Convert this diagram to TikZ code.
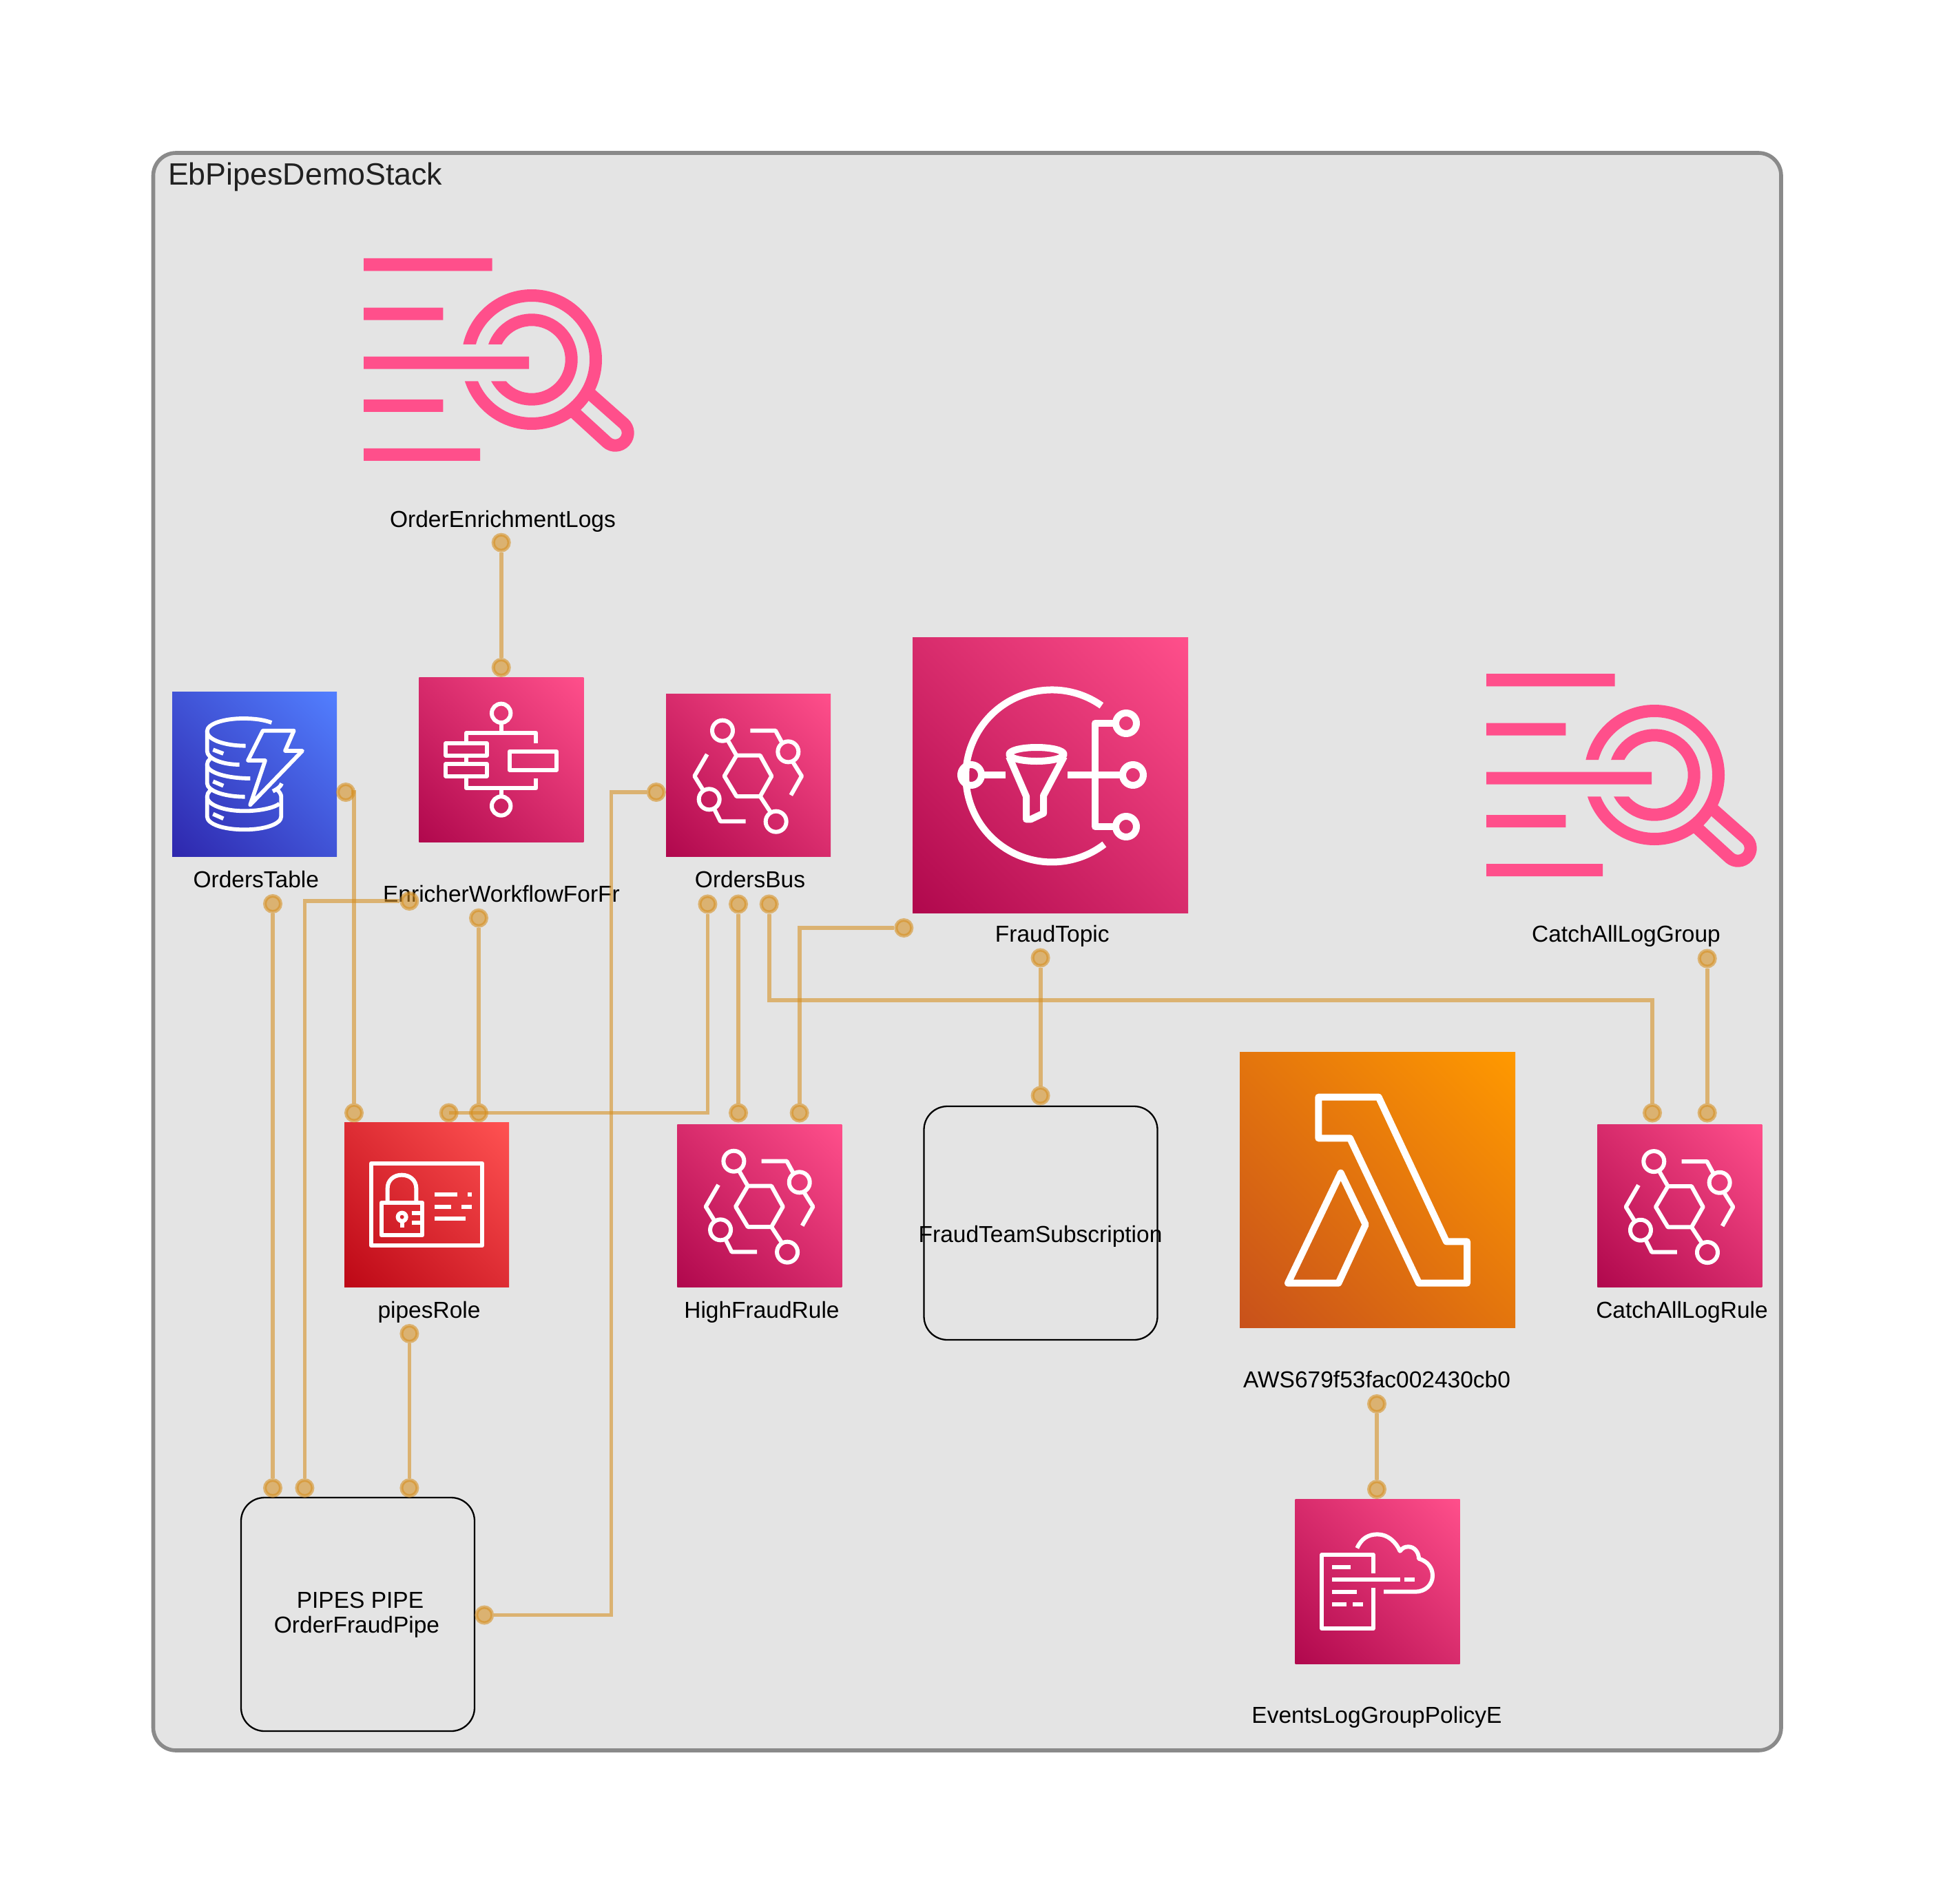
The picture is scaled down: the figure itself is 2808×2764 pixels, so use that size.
\documentclass[tikz,border=0pt]{standalone}
\usepackage{fontspec}
\setmainfont{Liberation Sans}
\definecolor{pinkA}{HTML}{B0084D}\definecolor{pinkB}{HTML}{FF4F8B}
\definecolor{blueA}{HTML}{2E27AD}\definecolor{blueB}{HTML}{527FFF}
\definecolor{redA}{HTML}{BD0816}\definecolor{redB}{HTML}{FF5252}
\definecolor{orgA}{HTML}{C8511B}\definecolor{orgB}{HTML}{FF9900}
\definecolor{connC}{HTML}{D68F1F}
\definecolor{clusterFill}{HTML}{E4E4E4}
\definecolor{clusterLine}{HTML}{8A8A8A}
\pgfdeclareverticalshading{pinkg}{100bp}{color(0bp)=(pinkA); color(14.6bp)=(pinkA); color(85.4bp)=(pinkB); color(100bp)=(pinkB)}
\pgfdeclareverticalshading{blueg}{100bp}{color(0bp)=(blueA); color(14.6bp)=(blueA); color(85.4bp)=(blueB); color(100bp)=(blueB)}
\pgfdeclareverticalshading{redg}{100bp}{color(0bp)=(redA); color(14.6bp)=(redA); color(85.4bp)=(redB); color(100bp)=(redB)}
\pgfdeclareverticalshading{orgg}{100bp}{color(0bp)=(orgA); color(14.6bp)=(orgA); color(85.4bp)=(orgB); color(100bp)=(orgB)}
\tikzset{
  iconbox/.style n args={3}{rectangle,anchor=north west,inner sep=0pt,outer sep=0pt,
    minimum width=#1,minimum height=#2,shade,shading=#3,shading angle=-45},
  glyphline/.style={draw=white,line width=#1,line join=round,fill=none},
  lbl/.style={anchor=base,inner sep=0pt,outer sep=0pt,text=black,font=\fontsize{33.5pt}{40pt}\selectfont},
  titlelbl/.style={anchor=base west,inner sep=0pt,outer sep=0pt,text=black!87,font=\fontsize{44.8pt}{50pt}\selectfont},
  cluster/.style={draw=clusterLine,fill=clusterFill,line width=5.6pt,rounded corners=33pt},
  whitebox/.style={rectangle,draw=black,line width=2.3pt,rounded corners=34pt,fill=none,anchor=north west,inner sep=0pt,outer sep=0pt,minimum width=339pt,minimum height=339pt},
  dotmark/.style={circle,inner sep=0pt,outer sep=2.5pt,minimum size=23pt,fill=connC,fill opacity=.58,
    postaction={draw=connC,draw opacity=.58,line width=5pt}},
  conn/.style={draw=connC,draw opacity=.58,line width=5.8pt},
  logpink/.style={fill=pinkB,draw=none},
}
\newcommand{\busglyph}{%
  \draw[glyphline=6pt] (237,182) circle[radius=15pt] (523,274) circle[radius=15pt]
    (179,481) circle[radius=15pt] (470,578) circle[radius=15pt];
  \draw[glyphline=6pt] (298,290)--(401,290)--(451,380)--(401,468)--(298,468)--(245,380)--cycle;
  \draw[glyphline=6pt] (260,224)--(298,290) (401,468)--(447,538);
  \draw[glyphline=6pt] (358,182)--(468,182)--(495,232) (543,318)--(582,380)--(535,463);
  \draw[glyphline=6pt] (170,285)--(115,380)--(152,440) (203,527)--(228,577)--(338,577);
}
\newcommand{\logglyph}{%
  \fill[logpink] (144,165) rectangle (704,220) (144,380) rectangle (490,434)
    (144,593) rectangle (864,647) (144,780) rectangle (490,834) (144,993) rectangle (651,1047);
  \begin{scope}
    \clip (400,200)--(1400,200)--(1400,1100)--(400,1100)--(400,700)--(900,700)--(900,540)--(400,540)--cycle;
    \draw[draw=pinkB,line width=18pt] (876,606) circle[radius=93pt];
    \draw[draw=pinkB,line width=18pt] (876,606) circle[radius=57.7pt];
  \end{scope}
  \draw[draw=pinkB,line width=18pt] (1125,750)--(1276.5,884) arc[start angle=48.4,end angle=-131.6,radius=18.33pt]--(1060,835);
}
\begin{document}
\begin{tikzpicture}[x=1pt,y=-1pt]
\useasboundingbox (0,0) rectangle (2808,2764);
\fill[white] (0,0) rectangle (2808,2764);
\draw[cluster] (222.5,222) rectangle (2586,2541);
\node[titlelbl] (stackLabel) at (244,269) {EbPipesDemoStack};

% ---- icons
\node[iconbox={239pt}{239pt}{blueg}] (ordersTable) at (250,1004) {};
\begin{scope}[shift={(240,1000)},x=.33333pt,y=-.33333pt]
  \draw[glyphline=5.8pt,line cap=butt]
    (463,147) .. controls (430,135) and (390,129) .. (340,129) .. controls (255,129) and (182,152) .. (182,185) .. controls (182,222) and (260,248) .. (350,248);
  \draw[glyphline=5.8pt] (182,185)--(182,270) .. controls (182,305) and (250,330) .. (323,330);
  \draw[glyphline=5.8pt] (195,305) .. controls (187,312) and (182,320) .. (182,330) .. controls (182,365) and (270,390) .. (370,390);
  \draw[glyphline=5.8pt] (182,330)--(182,410) .. controls (182,445) and (260,470) .. (347,470);
  \draw[glyphline=5.8pt] (195,443) .. controls (187,450) and (182,460) .. (182,470) .. controls (182,505) and (255,532) .. (345,532) .. controls (420,532) and (480,515) .. (497,500);
  \draw[glyphline=5.8pt] (182,470)--(182,555) .. controls (182,590) and (255,613) .. (345,613) .. controls (430,613) and (505,590) .. (505,555)--(505,470) .. controls (505,460) and (497,448) .. (488,440);
  \draw[glyphline=5.8pt] (507,412) .. controls (503,425) and (490,435) .. (468,446);
  \draw[glyphline=5.8pt] (208,265)--(253,282) (208,403)--(253,422) (208,545)--(253,565);
  \draw[glyphline=5.8pt] (425,182)--(560,182)--(522,270)--(597,270)--(370,505)--(435,312)--(360,312)--cycle;
\end{scope}

\node[iconbox={239pt}{239pt}{pinkg}] (enricher) at (608.3,983.3) {};
\begin{scope}[shift={(600,980)},x=.33333pt,y=-.33333pt]
  \draw[glyphline=6pt] (383,166) circle[radius=13.7pt] (383,570) circle[radius=13.7pt];
  \draw[glyphline=6pt] (383,215)--(383,252) (383,493)--(383,525);
  \draw[glyphline=6pt] (231,290)--(231,252)--(535,252)--(535,297);
  \draw[glyphline=6pt] (231,449)--(231,493)--(535,493)--(535,449);
  \draw[glyphline=6pt] (142,297) rectangle (320,350) (142,387) rectangle (320,440);
  \draw[glyphline=6pt] (231,350)--(231,387);
  \draw[glyphline=6pt] (419,333) rectangle (625,413);
\end{scope}

\node[iconbox={239pt}{236pt}{pinkg}] (ordersBus) at (967,1007) {};
\begin{scope}[shift={(970,1000)},x=.33333pt,y=-.33333pt]\busglyph\end{scope}

\node[iconbox={400pt}{400pt}{pinkg}] (fraudTopic) at (1325,925) {};
\begin{scope}[shift={(1300,900)},x=.33333pt,y=-.33333pt]
  \draw[glyphline=10pt] (898,373) arc[start angle=54.8,end angle=307.5,radius=125pt];
  \draw[glyphline=10pt] (330,675) circle[radius=15pt] (1005,450) circle[radius=15pt]
     (1035,675) circle[radius=15pt] (1005,900) circle[radius=15pt];
  \draw[glyphline=10pt] (388,675)--(480,675) (750,675)--(978,675);
  \draw[glyphline=10pt] (948,450)--(870,450)--(870,900)--(948,900);
  \draw[glyphline=10pt] (615,585) ellipse[x radius=39.7pt,y radius=10pt];
  \draw[glyphline=10pt] (495,595)--(570,768)--(570,868)--(590,868)--(645,842)--(645,765)--(735,595);
\end{scope}

\node[iconbox={239pt}{239pt}{redg}] (pipesRole) at (500,1629) {};
\begin{scope}[shift={(480,1600)},x=.33333pt,y=-.33333pt]
  \draw[glyphline=6pt] (176,266) rectangle (660,625);
  \draw[glyphline=6pt] (248,430)--(248,375) .. controls (248,340) and (275,317) .. (310,317) .. controls (345,317) and (373,340) .. (373,375)--(373,430);
  \draw[glyphline=6pt] (221,437) rectangle (400,580);
  \draw[glyphline=6pt] (311,500) circle[radius=6pt];
  \draw[glyphline=6pt] (311,520)--(311,545);
  \draw[glyphline=6pt] (355,482)--(400,482) (355,526)--(400,526);
  \draw[glyphline=6pt] (454,401)--(553,401) (597,401)--(615,401) (454,455)--(526,455) (570,455)--(615,455) (454,508)--(588,508);
\end{scope}

\node[iconbox={239pt}{236pt}{pinkg}] (highFraudRule) at (983.4,1632) {};
\begin{scope}[shift={(986.4,1625)},x=.33333pt,y=-.33333pt]\busglyph\end{scope}

\node[iconbox={239pt}{236pt}{pinkg}] (catchAllRule) at (2319.3,1632.4) {};
\begin{scope}[shift={(2322.3,1625.4)},x=.33333pt,y=-.33333pt]\busglyph\end{scope}

\node[iconbox={400pt}{400pt}{orgg}] (lambdaFn) at (1800,1527.7) {};
\begin{scope}[shift={(1800,1520)},x=.33333pt,y=-.33333pt]
  \draw[glyphline=10pt] (343,218)--(605,218)--(900,847)--(990,847)--(990,1028)--(780,1028)--(480,397)--(343,397)--cycle;
  \draw[glyphline=10pt] (210,1028)--(440,548)--(548,773)--(430,1028)--cycle;
\end{scope}

\node[iconbox={239pt}{239pt}{pinkg}] (policyE) at (1880.7,2176.3) {};
\begin{scope}[shift={(1880,2170)},x=.33333pt,y=-.33333pt]
  \draw[glyphline=6pt] (341,341)--(341,260)--(118,260)--(118,583)--(341,583)--(341,404);
  \draw[glyphline=6pt] (163,314)--(243,314) (163,368)--(458,368) (477,368)--(521,368) (163,422)--(270,422) (163,476)--(225,476) (252,476)--(297,476);
  \draw[glyphline=6pt] (271,232) .. controls (290,190) and (320,172) .. (360,172) .. controls (405,172) and (440,205) .. (458,245) .. controls (470,230) and (480,226) .. (495,226) .. controls (520,226) and (540,250) .. (540,278) .. controls (575,288) and (600,315) .. (600,352) .. controls (600,390) and (570,422) .. (525,422)--(387,422);
\end{scope}

\begin{scope}[shift={(480,320)},x=.33333pt,y=-.33333pt]\logglyph\end{scope}
\begin{scope}[shift={(2110,923)},x=.33333pt,y=-.33333pt]\logglyph\end{scope}

\node[whitebox] (pipeBox) at (350,2174) {};
\node[whitebox] (subBox) at (1341.5,1606) {};

% ---- labels
\node[lbl] (l1) at (730,765) {OrderEnrichmentLogs};
\node[lbl] (l2) at (371.8,1288) {OrdersTable};
\node[lbl] (l3) at (728,1309) {EnricherWorkflowForFr};
\node[lbl] (l4) at (1089,1288) {OrdersBus};
\node[lbl] (l5) at (1527.8,1367.5) {FraudTopic};
\node[lbl] (l6) at (2361,1367.5) {CatchAllLogGroup};
\node[lbl] (l7) at (623,1913) {pipesRole};
\node[lbl] (l8) at (1106,1913) {HighFraudRule};
\node[lbl] (l9) at (2442,1913) {CatchAllLogRule};
\node[lbl] (l10) at (1510.5,1803) {FraudTeamSubscription};
\node[lbl] (l11) at (1999,2014) {AWS679f53fac002430cb0};
\node[lbl] (l12) at (1999,2501) {EventsLogGroupPolicyE};
\node[lbl] (l13) at (523,2334) {PIPES PIPE};
\node[lbl] (l14) at (518,2370) {OrderFraudPipe};

% ---- dots
\node[dotmark] (logB) at (727.7,787.7) {};
\node[dotmark] (enrT) at (727.7,969) {};
\node[dotmark] (tabR) at (502,1150) {};
\node[dotmark] (busL) at (952.8,1150) {};
\node[dotmark] (tabB) at (396,1312) {};
\node[dotmark] (enrL) at (594.4,1308) {};
\node[dotmark] (enrB) at (695,1332.7) {};
\node[dotmark] (busA) at (1027.4,1312.5) {};
\node[dotmark] (busB) at (1072,1312.5) {};
\node[dotmark] (busC) at (1116.7,1312.5) {};
\node[dotmark] (roleA) at (514,1615.5) {};
\node[dotmark] (roleB) at (651.7,1615.5) {};
\node[dotmark] (roleC) at (695,1615.5) {};
\node[dotmark] (hfA) at (1072,1615.5) {};
\node[dotmark] (hfB) at (1160.7,1615.5) {};
\node[dotmark] (fraudL) at (1312.3,1347) {};
\node[dotmark] (fraudB) at (1510.6,1390.5) {};
\node[dotmark] (subT) at (1510.6,1590.5) {};
\node[dotmark] (clgB) at (2478.7,1391.5) {};
\node[dotmark] (carA) at (2399,1615.5) {};
\node[dotmark] (carB) at (2478.7,1615.5) {};
\node[dotmark] (roleBot) at (594.4,1936) {};
\node[dotmark] (pipeA) at (396,2160) {};
\node[dotmark] (pipeB) at (442.4,2160) {};
\node[dotmark] (pipeC) at (594.4,2160) {};
\node[dotmark] (pipeR) at (703.2,2344.5) {};
\node[dotmark] (awsB) at (1999,2038) {};
\node[dotmark] (polT) at (1999,2162) {};
\coordinate (bendPipe) at (887.5,2344.5);
\coordinate (bendBus) at (887.5,1150);
\coordinate (bendRule) at (1760,1452);

% ---- connectors
\draw[conn] (logB) -- (enrT);
\draw[conn] ([xshift=8pt]tabR.center) -| (roleA);
\draw[conn] (tabB) -- (pipeA);
\draw[conn] (enrL) -| (pipeB);
\draw[conn] (enrB) -- (roleC);
\draw[conn] (busA) |- (roleB.center);
\draw[conn] (busB) -- (hfA);
\draw[conn] (busC) |- (bendRule) -| (carA);
\draw[conn] (fraudL) -| (hfB);
\draw[conn] (fraudB) -- (subT);
\draw[conn] (clgB) -- (carB);
\draw[conn] (roleBot) -- (pipeC);
\draw[conn] (pipeR) -- (bendPipe) -- (bendBus) -- (busL);
\draw[conn] (awsB) -- (polT);
\end{tikzpicture}
\end{document}
